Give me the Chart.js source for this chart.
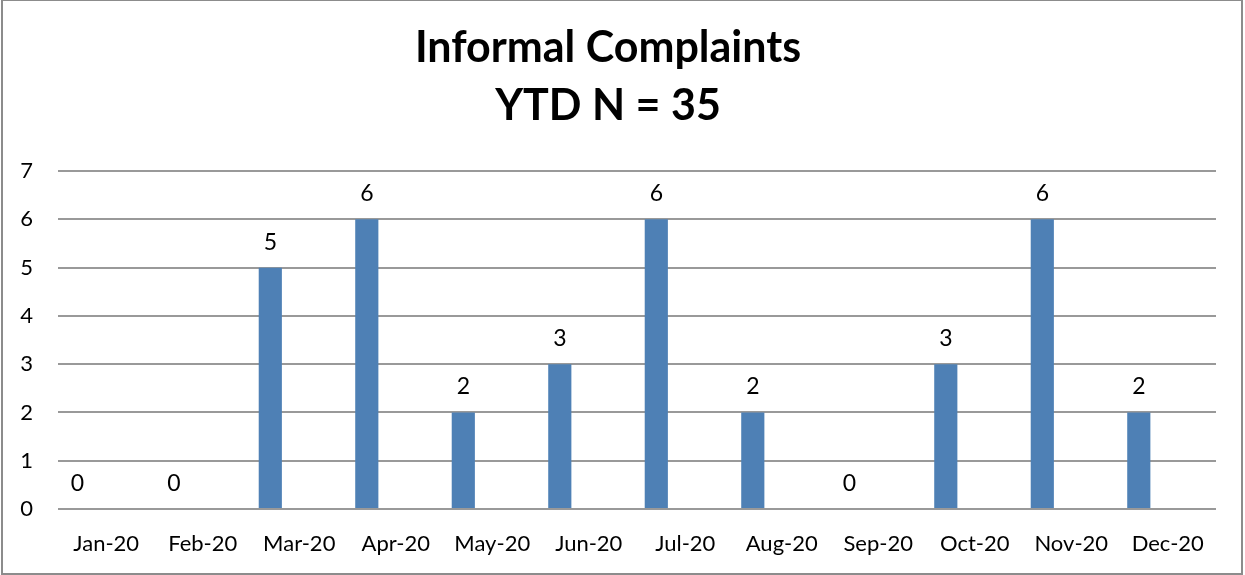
<!DOCTYPE html>
<html>
<head>
<meta charset="utf-8">
<script src="https://cdn.jsdelivr.net/npm/chart.js@4/dist/chart.umd.min.js"></script>
<style>
  html, body { margin: 0; padding: 0; background: #fff; }
  #wrap { width: 1245px; height: 575px; position: relative; }
</style>
</head>
<body>
<div id="wrap"><canvas id="complaintsChart"></canvas></div>
<script>
const months = ['Jan-20', 'Feb-20', 'Mar-20', 'Apr-20', 'May-20', 'Jun-20',
                'Jul-20', 'Aug-20', 'Sep-20', 'Oct-20', 'Nov-20', 'Dec-20'];
const complaints = [0, 0, 5, 6, 2, 3, 6, 2, 0, 3, 6, 2];
// second series is empty in the original sheet, it only keeps its slot
const emptySeries = [null, null, null, null, null, null, null, null, null, null, null, null];
const yTicks = [0, 1, 2, 3, 4, 5, 6, 7];
const titleLines = ['Informal Complaints', 'YTD N = 35'];

const fontFamily = 'Lato, Calibri, sans-serif';

const frame = {
    id: 'frame',
    beforeDraw(chart) {
        const ctx = chart.ctx;
        ctx.save();
        ctx.fillStyle = '#fff';
        ctx.fillRect(0, 0, chart.width, chart.height);
        ctx.strokeStyle = '#8c8c8c';
        ctx.lineWidth = 2;
        ctx.strokeRect(2, 0, 1240, 574);
        ctx.restore();
    }
};

const valueLabels = {
    id: 'valueLabels',
    afterDatasetsDraw(chart) {
        const ctx = chart.ctx;
        const meta = chart.getDatasetMeta(0);
        ctx.save();
        ctx.font = '23px ' + fontFamily;
        ctx.fillStyle = '#000';
        ctx.textAlign = 'center';
        ctx.textBaseline = 'alphabetic';
        meta.data.forEach((bar, i) => {
            ctx.fillText(String(complaints[i]), bar.x, bar.y - 18);
        });
        ctx.restore();
    }
};

const ctx = document.getElementById('complaintsChart').getContext('2d');

window.complaintsChart = new Chart(ctx, {
    type: 'bar',
    data: {
        labels: months,
        datasets: [{
            label: 'Informal Complaints',
            data: complaints,
            backgroundColor: '#4e80b5',
            categoryPercentage: 1.2,
            barPercentage: 0.4
        }, {
            label: '',
            data: emptySeries,
            backgroundColor: '#c0504d',
            categoryPercentage: 1.2,
            barPercentage: 0.4
        }]
    },
    options: {
        responsive: true,
        maintainAspectRatio: false,
        animation: false,
        layout: {
            padding: { left: 0, right: 29, top: 19, bottom: 0 }
        },
        plugins: {
            legend: { display: false },
            tooltip: { enabled: false },
            title: {
                display: true,
                text: titleLines,
                color: '#000',
                font: { family: fontFamily, size: 43, weight: 'bold', lineHeight: 1.35 },
                padding: { top: 0, bottom: 36 }
            }
        },
        scales: {
            x: {
                afterFit(scale) { scale.height = 66; },
                grid: { display: false, drawTicks: false },
                border: { display: false },
                ticks: {
                    color: '#000',
                    padding: 22,
                    font: { family: fontFamily, size: 22 }
                }
            },
            y: {
                min: 0,
                max: 7,
                afterFit(scale) { scale.width = 58; },
                afterBuildTicks(scale) { scale.ticks = yTicks.map(v => ({ value: v })); },
                grid: { color: '#999', lineWidth: 2, drawTicks: false },
                border: { display: false },
                ticks: {
                    color: '#000',
                    padding: 25,
                    font: { family: fontFamily, size: 22 }
                }
            }
        }
    },
    plugins: [frame, valueLabels]
});
</script>
</body>
</html>
